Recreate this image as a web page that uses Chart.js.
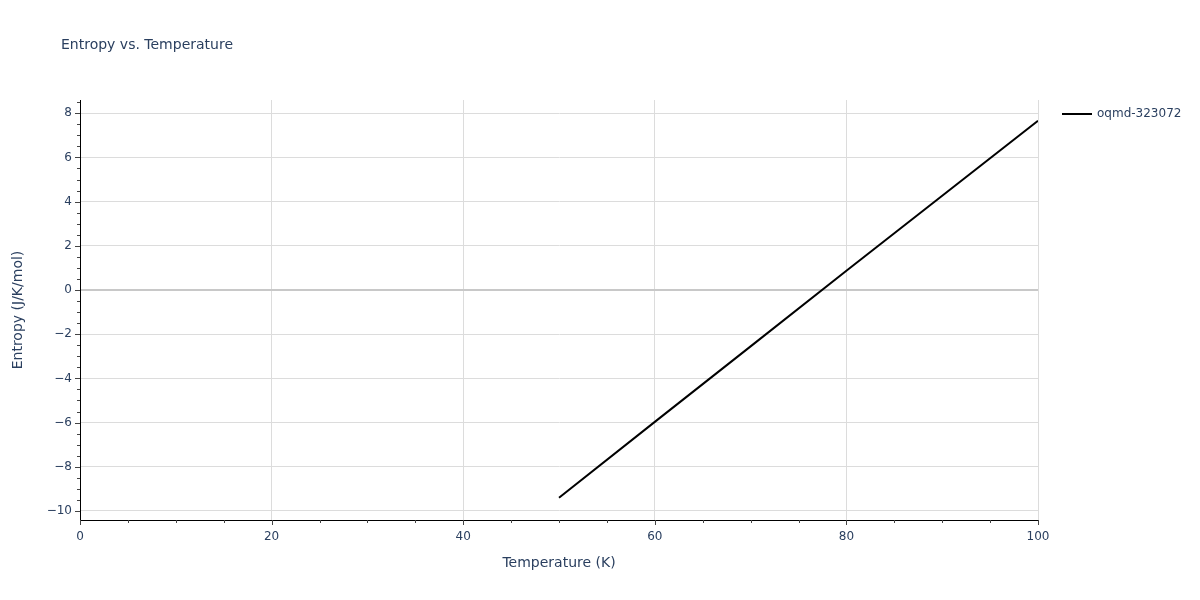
<!DOCTYPE html>
<html>
<head>
<meta charset="utf-8">
<script src="https://cdn.jsdelivr.net/npm/chart.js@4"></script>
<style>
  html, body { margin: 0; padding: 0; background: #fff; }
  #wrap { width: 1200px; height: 600px; }
</style>
</head>
<body>
<div id="wrap"><canvas id="entropyChart" width="1200" height="600"></canvas></div>
<script>
// data
const temperatures = [50, 60, 70, 80, 90, 100];
const entropyValues = [-9.40, -5.97, -2.55, 0.87, 4.27, 7.66];
const seriesName = "oqmd-323072";

const xTicks = [0, 20, 40, 60, 80, 100];
const yTicks = [-10, -8, -6, -4, -2, 0, 2, 4, 6, 8];
const xMinorStep = 5;
const yMinorStep = 0.5;

const chartTitle = "Entropy vs. Temperature";
const xTitle = "Temperature (K)";
const yTitle = "Entropy (J/K/mol)";

const FONT = "'DejaVu Sans', Verdana, sans-serif";
const TEXT = "#2a3f5f";

function fmt(v) {
  return v < 0 ? "\u2212" + Math.abs(v) : String(v);
}

// title, axis titles, legend and outside ticks (plotly look)
const decorations = {
  id: "decorations",
  afterDraw(chart) {
    const c = chart.ctx;
    const area = chart.chartArea;
    const xs = chart.scales.x;
    const ys = chart.scales.y;
    c.save();

    // ticks
    c.lineWidth = 1;
    c.strokeStyle = "#444";
    for (let v = xs.min; v <= xs.max + 1e-9; v += xMinorStep) {
      const px = Math.round(xs.getPixelForValue(v)) + 0.5;
      const major = xTicks.includes(v);
      c.beginPath();
      c.moveTo(px, area.bottom);
      c.lineTo(px, area.bottom + (major ? 5 : 3));
      c.stroke();
    }
    for (let v = Math.ceil(ys.min / yMinorStep) * yMinorStep; v <= ys.max; v += yMinorStep) {
      const py = Math.round(ys.getPixelForValue(v)) + 0.5;
      const major = yTicks.includes(Math.round(v * 100) / 100);
      c.beginPath();
      c.moveTo(area.left, py);
      c.lineTo(area.left - (major ? 5 : 3), py);
      c.stroke();
    }

    // chart title
    c.fillStyle = TEXT;
    c.font = "14px " + FONT;
    c.textAlign = "left";
    c.textBaseline = "middle";
    c.fillText(chartTitle, 61, 45);

    // axis titles
    c.font = "14px " + FONT;
    c.textAlign = "center";
    c.fillText(xTitle, (area.left + area.right) / 2, 563);
    c.save();
    c.translate(18, (area.top + area.bottom) / 2);
    c.rotate(-Math.PI / 2);
    c.fillText(yTitle, 0, 0);
    c.restore();

    // legend
    const ds = chart.data.datasets[0];
    c.strokeStyle = ds.borderColor;
    c.lineWidth = 2;
    c.beginPath();
    c.moveTo(1062, 114);
    c.lineTo(1092, 114);
    c.stroke();
    c.font = "12px " + FONT;
    c.textAlign = "left";
    c.fillStyle = TEXT;
    c.fillText(ds.label, 1097, 114);

    c.restore();
  }
};

new Chart(document.getElementById("entropyChart"), {
  type: "line",
  data: {
    datasets: [{
      label: seriesName,
      data: temperatures.map((t, i) => ({ x: t, y: entropyValues[i] })),
      borderColor: "#000000",
      borderWidth: 2,
      pointRadius: 0,
      tension: 0,
      fill: false
    }]
  },
  options: {
    responsive: false,
    animation: false,
    layout: { padding: { top: 100, right: 162, bottom: 0, left: 0 } },
    plugins: {
      legend: { display: false },
      title: { display: false },
      tooltip: { enabled: false }
    },
    scales: {
      x: {
        type: "linear",
        min: 0,
        max: 100,
        afterFit(scale) { scale.height = 80; },
        afterBuildTicks(scale) { scale.ticks = xTicks.map(v => ({ value: v })); },
        grid: { color: "#dcdcdc", drawTicks: false },
        border: { display: true, color: "#000", width: 1 },
        ticks: {
          padding: 10,
          color: TEXT,
          font: { family: FONT, size: 12 },
          maxRotation: 0,
          callback: v => fmt(v)
        }
      },
      y: {
        type: "linear",
        min: -10.41,
        max: 8.60,
        afterFit(scale) { scale.width = 80; },
        afterBuildTicks(scale) { scale.ticks = yTicks.map(v => ({ value: v })); },
        grid: {
          color: ctx => (ctx.tick && ctx.tick.value === 0 ? "#c8c8c8" : "#dcdcdc"),
          lineWidth: ctx => (ctx.tick && ctx.tick.value === 0 ? 2 : 1),
          drawTicks: false
        },
        border: { display: true, color: "#000", width: 1 },
        ticks: {
          padding: 8,
          color: TEXT,
          font: { family: FONT, size: 12 },
          callback: v => fmt(v)
        }
      }
    }
  },
  plugins: [decorations]
});
</script>
</body>
</html>
